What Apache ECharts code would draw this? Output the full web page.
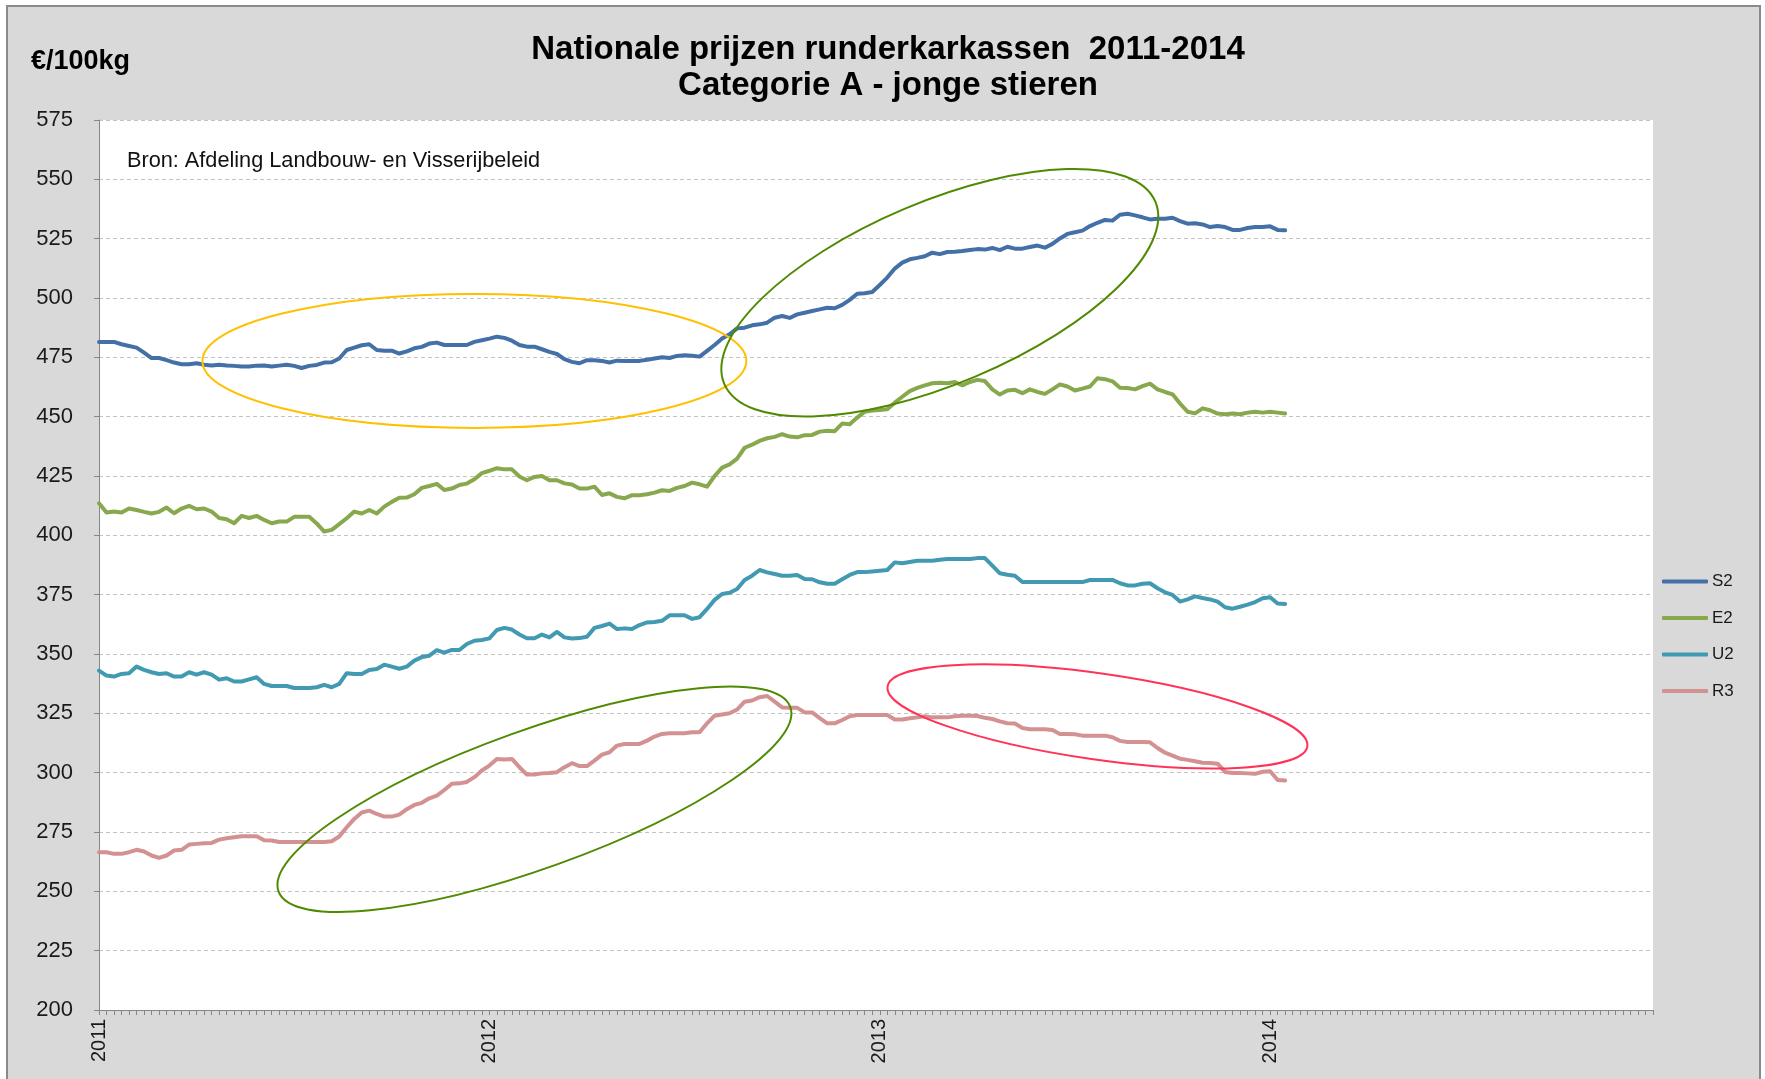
<!DOCTYPE html>
<html>
<head>
<meta charset="utf-8">
<title>Nationale prijzen runderkarkassen 2011-2014</title>
<script src="https://cdn.jsdelivr.net/npm/echarts@6/dist/echarts.min.js"></script>
<style>
  html, body { margin: 0; padding: 0; background: #fff; overflow: hidden; }
  #frame { position: absolute; left: 6px; top: 5px; width: 1751px; height: 1100px; background: #d9d9d9; border: 2px solid #8a8a8a; }
  #chart { position: absolute; left: 0; top: 0; width: 1765px; height: 1079px; }
</style>
</head>
<body>
<div id="frame"></div>
<div id="chart"></div>
<script>
// weekly prices, week 1 of 2011 up to week 3 of 2014 (euro / 100 kg)
const years = ['2011', '2012', '2013', '2014'];
const weeksPerYear = 52;

const s2 = [
  481.5, 481.5, 481.5, 480.5, 479.8, 479.1, 477.0, 474.7, 474.7, 473.8, 472.8, 472.1, 472.1, 472.5, 471.9, 471.6, 471.9, 471.6, 471.4, 471.1,
  471.1, 471.5, 471.6, 471.1, 471.5, 471.9, 471.4, 470.5, 471.4, 471.8, 472.8, 472.9, 474.5, 478.1, 479.1, 480.1, 480.5, 478.1, 477.8, 477.8,
  476.6, 477.5, 478.8, 479.4, 480.8, 481.2, 480.2, 480.2, 480.2, 480.2, 481.5, 482.2, 482.9,
  483.7, 483.2, 482.0, 480.2, 479.5, 479.5, 478.4, 477.3, 476.4, 474.2, 473.1, 472.5, 473.8, 473.8, 473.5, 472.8, 473.6, 473.5, 473.5, 473.5,
  474.0, 474.5, 475.0, 474.7, 475.6, 475.9, 475.7, 475.3, 477.7, 480.2, 482.9, 484.7, 487.2, 487.5, 488.5, 488.9, 489.6, 491.7, 492.4, 491.6,
  493.1, 493.8, 494.5, 495.2, 495.9, 495.7, 497.1, 499.2, 501.8, 502.0, 502.5, 505.5,
  508.6, 512.4, 514.9, 516.3, 516.9, 517.6, 519.1, 518.5, 519.4, 519.5, 519.8, 520.2, 520.6, 520.4, 521.1, 520.2, 521.6, 520.8, 520.8, 521.5,
  522.1, 521.2, 522.8, 525.1, 527.0, 527.7, 528.4, 530.3, 531.7, 532.9, 532.6, 535.1, 535.5, 534.8, 534.0, 533.1, 533.4, 533.4, 533.8, 532.4,
  531.3, 531.5, 531.0, 529.9, 530.3, 529.9, 528.7, 528.7, 529.5, 529.9, 529.9, 530.2, 528.7, 528.5
];

const e2 = [
  413.5, 409.6, 410.0, 409.6, 411.3, 410.7, 409.9, 409.2, 409.9, 411.7, 409.3, 411.3, 412.4, 411.0, 411.3, 410.0, 407.3, 406.8, 405.1, 408.2,
  407.3, 408.2, 406.5, 405.1, 405.8, 405.8, 407.8, 407.8, 407.8, 405.0, 401.6, 402.3, 404.7, 407.2, 410.0, 409.2, 410.7, 409.2, 412.1, 414.1,
  415.8, 415.9, 417.3, 420.0, 420.8, 421.7, 419.1, 419.7, 421.2, 421.8, 423.6, 426.2, 427.2,
  428.3, 427.8, 427.8, 424.8, 423.2, 424.6, 425.0, 423.2, 423.2, 421.9, 421.4, 419.7, 419.7, 420.5, 417.0, 417.7, 416.2, 415.6, 416.9, 416.9,
  417.3, 418.0, 419.0, 418.7, 420.0, 420.8, 422.2, 421.5, 420.5, 425.0, 428.5, 429.9, 432.3, 436.9, 438.2, 439.8, 440.9, 441.5, 442.6, 441.6,
  441.3, 442.2, 442.3, 443.7, 444.1, 443.9, 447.1, 446.8, 449.6, 452.1, 452.6, 452.8,
  453.1, 455.9, 458.4, 460.8, 462.1, 463.2, 464.1, 464.3, 464.1, 464.6, 463.2, 464.6, 465.5, 465.0, 461.5, 459.3, 461.0, 461.3, 459.9, 461.5,
  460.4, 459.6, 461.5, 463.6, 462.7, 461.0, 461.8, 462.7, 466.2, 465.8, 464.9, 462.2, 462.1, 461.5, 462.9, 463.9, 461.5, 460.4, 459.4, 455.5,
  452.1, 451.4, 453.5, 452.7, 451.3, 451.0, 451.3, 451.0, 451.7, 452.1, 451.7, 452.1, 451.7, 451.3
];

const u2 = [
  343.0, 340.9, 340.5, 341.6, 341.9, 344.7, 343.3, 342.3, 341.6, 341.9, 340.5, 340.5, 342.3, 341.3, 342.3, 341.3, 339.2, 339.8, 338.4, 338.4,
  339.3, 340.2, 337.4, 336.5, 336.5, 336.5, 335.7, 335.7, 335.7, 336.0, 337.0, 336.0, 337.4, 341.9, 341.6, 341.6, 343.3, 343.7, 345.5, 344.7,
  343.8, 344.7, 347.2, 348.7, 349.3, 351.6, 350.6, 351.7, 351.7, 354.2, 355.6, 355.9, 356.6,
  360.1, 361.0, 360.3, 358.2, 356.6, 356.6, 358.2, 357.0, 359.3, 357.0, 356.5, 356.7, 357.3, 361.0, 361.8, 362.8, 360.5, 360.8, 360.5, 362.2,
  363.3, 363.5, 364.0, 366.3, 366.3, 366.3, 364.8, 365.5, 369.0, 372.8, 375.3, 375.8, 377.4, 381.2, 383.0, 385.4, 384.4, 383.7, 383.0, 383.0,
  383.3, 381.6, 381.5, 380.2, 379.6, 379.6, 381.5, 383.3, 384.5, 384.5, 384.8, 385.1,
  385.4, 388.6, 388.2, 388.8, 389.3, 389.3, 389.3, 389.7, 390.0, 390.0, 390.0, 390.0, 390.4, 390.4, 387.2, 384.0, 383.4, 383.0, 380.3, 380.3,
  380.3, 380.3, 380.3, 380.3, 380.3, 380.3, 380.3, 381.2, 381.2, 381.2, 381.2, 379.8, 378.9, 378.9, 379.6, 379.8, 377.7, 376.0, 374.9, 372.1,
  373.0, 374.3, 373.6, 373.0, 372.1, 369.7, 369.1, 369.9, 370.8, 371.9, 373.5, 373.9, 371.3, 371.1
];

const r3 = [
  266.5, 266.5, 265.8, 265.8, 266.5, 267.5, 266.8, 265.1, 264.1, 265.1, 267.2, 267.5, 269.7, 270.0, 270.3, 270.4, 271.8, 272.4, 272.8, 273.2,
  273.2, 273.2, 271.5, 271.4, 270.8, 270.8, 270.8, 270.8, 270.8, 270.8, 270.8, 271.1, 273.1, 277.0, 280.5, 283.2, 284.0, 282.6, 281.5, 281.5,
  282.3, 284.6, 286.4, 287.3, 289.2, 290.3, 292.7, 295.3, 295.5, 296.1, 298.1, 300.9, 303.0,
  305.8, 305.5, 305.8, 302.3, 299.2, 299.2, 299.7, 299.9, 300.2, 302.3, 304.0, 302.8, 302.8, 305.1, 307.6, 308.6, 311.4, 312.1, 312.1, 312.1,
  313.5, 315.2, 316.3, 316.6, 316.6, 316.6, 317.0, 317.0, 320.8, 324.0, 324.5, 325.0, 326.6, 329.9, 330.4, 331.8, 332.3, 329.9, 327.5, 327.3,
  327.3, 325.4, 325.4, 323.0, 320.8, 320.8, 322.2, 323.8, 324.3, 324.3, 324.3, 324.3,
  324.3, 322.4, 322.4, 322.9, 323.3, 323.8, 323.3, 323.3, 323.3, 323.8, 324.0, 324.0, 323.9, 323.1, 322.6, 321.6, 320.8, 320.7, 318.8, 318.3,
  318.3, 318.3, 318.0, 316.3, 316.3, 316.2, 315.6, 315.6, 315.6, 315.6, 314.9, 313.4, 312.9, 312.9, 312.9, 312.8, 310.4, 308.4, 307.2, 305.9,
  305.4, 304.8, 304.2, 304.1, 303.8, 300.3, 299.9, 299.9, 299.7, 299.5, 300.4, 300.6, 296.9, 296.7
];

const seriesNames = ['S2', 'E2', 'U2', 'R3'];
const seriesColors = ['#4470a8', '#88a84e', '#419ab2', '#d39191'];

// hand-drawn ellipses of the original, centred on (week index, price)
const annotations = [
  { week: 50.0, price: 473.5, rx: 272, ry: 67, angle: 0, color: '#ffc000' },
  { week: 111.5, price: 502.2, rx: 234, ry: 91, angle: 22.9, color: '#4f8a00' },
  { week: 58.2, price: 288.8, rx: 272, ry: 69, angle: 19.8, color: '#4f8a00' },
  { week: 132.8, price: 323.7, rx: 212, ry: 43, angle: -8.1, color: '#ff3358' }
];

const weeks = [];
years.forEach(function (y) {
  for (let w = 1; w <= weeksPerYear; w++) weeks.push(y + '-W' + String(w).padStart(2, '0'));
});

const font = '"Liberation Sans", Arial, sans-serif';
const chart = echarts.init(document.getElementById('chart'));

const option = {
  animation: false,
  textStyle: { fontFamily: font },
  title: {
    text: 'Nationale prijzen runderkarkassen  2011-2014\nCategorie A - jonge stieren',
    left: 883,
    textAlign: 'center',
    top: 27,
    textStyle: { fontSize: 33, fontWeight: 'bold', lineHeight: 36, color: '#000', fontFamily: font }
  },
  legend: {
    orient: 'vertical',
    left: 1657,
    top: 568,
    icon: 'roundRect',
    itemWidth: 46,
    itemHeight: 4,
    itemGap: 19.5,
    data: seriesNames,
    textStyle: { fontSize: 17, lineHeight: 14, height: 14, color: '#1a1a1a', fontFamily: font, padding: [0, 0, 0, -1] }
  },
  grid: {
    left: 99, top: 120, right: 112, bottom: 69,
    show: true, backgroundColor: '#fff', borderWidth: 0
  },
  xAxis: {
    type: 'category',
    data: weeks,
    boundaryGap: false,
    axisLine: { lineStyle: { color: '#868686', width: 1 } },
    axisTick: { show: true, interval: 0, length: 5, lineStyle: { color: '#868686' } },
    axisLabel: {
      interval: function (i) { return i % weeksPerYear === 0; },
      formatter: function (v) { return v.slice(0, 4); },
      rotate: 90,
      fontSize: 20,
      margin: 9,
      color: '#1a1a1a'
    },
    splitLine: { show: false }
  },
  yAxis: {
    type: 'value',
    min: 200,
    max: 575,
    interval: 25,
    axisLine: { show: true, lineStyle: { color: '#868686', width: 1 } },
    axisTick: { show: true, length: 5, lineStyle: { color: '#868686' } },
    axisLabel: { fontSize: 22, color: '#1a1a1a', margin: 26 },
    splitLine: { lineStyle: { color: '#c3c3c3', width: 1, type: [4, 3] } }
  },
  series: [s2, e2, u2, r3].map(function (d, k) {
    return {
      name: seriesNames[k],
      type: 'line',
      data: d,
      symbol: 'none',
      lineStyle: { width: 4, color: seriesColors[k], join: 'round', cap: 'round' },
      itemStyle: { color: seriesColors[k] },
      z: 3
    };
  })
};

chart.setOption(option);

const graphics = [
  {
    type: 'text', id: 'unit', left: 31, top: 48,
    style: { text: '€/100kg', font: 'bold 27px ' + font, fill: '#000' }
  },
  {
    type: 'text', id: 'source', left: 127, top: 150,
    style: { text: 'Bron: Afdeling Landbouw- en Visserijbeleid', font: '21.7px ' + font, fill: '#111' }
  }
];
annotations.forEach(function (a, k) {
  const p = chart.convertToPixel({ gridIndex: 0 }, [a.week, a.price]);
  graphics.push({
    type: 'ellipse',
    id: 'ell' + k,
    x: p[0],
    y: p[1],
    rotation: a.angle * Math.PI / 180,
    shape: { cx: 0, cy: 0, rx: a.rx, ry: a.ry },
    style: { fill: 'none', stroke: a.color, lineWidth: 2 },
    z: 10
  });
});
chart.setOption({ graphic: graphics });
</script>
</body>
</html>
